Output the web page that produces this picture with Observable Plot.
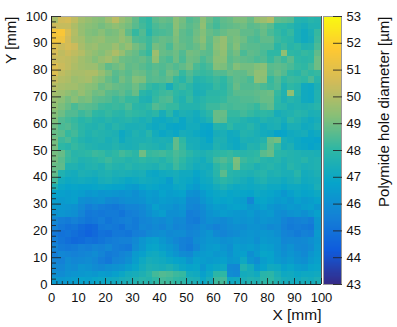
<!DOCTYPE html>
<html><head><meta charset="utf-8">
<script src="https://cdn.jsdelivr.net/npm/d3@7"></script>
<script src="https://cdn.jsdelivr.net/npm/@observablehq/plot@0.6"></script>
<style>body{margin:0;background:#fff}#c{position:relative;width:397px;height:327px}svg{position:absolute;left:0;top:0;background:transparent!important}
g[aria-label="rect"]{filter:blur(.45px)}</style>
</head><body><div id="c"></div><script>
const cellSize = 2.5;
const xTicks = [0,10,20,30,40,50,60,70,80,90,100];
const yTicks = xTicks;
const minorTicks = [2,4,6,8,12,14,16,18,22,24,26,28,32,34,36,38,42,44,46,48,52,54,56,58,62,64,66,68,72,74,76,78,82,84,86,88,92,94,96,98];
const zTicks = [43,44,45,46,47,48,49,50,51,52,53];
const birdStops = [43,44.25,45.5,46.75,48,49.25,50.5,51.75,53];
const birdColors = ["#352a87","#0f5cdd","#1481d6","#06a4ca","#2eb7a4","#87bf77","#d1bb59","#fec832","#f9fb0e"];
// rows from top (y = 97.5-100) to bottom (y = 0-2.5), columns x = 0..97.5
const rows = [
[49.8,50.5,50.6,50.2,49.7,49.5,49.3,49.2,49.6,50.1,49.5,49.2,48.7,48.2,48.0,48.6,48.8,48.7,49.3,49.0,48.5,48.7,49.3,48.8,48.4,48.7,48.8,49.1,49.1,48.8,49.4,49.6,49.9,48.7,48.6,48.5,47.7,47.6,47.8,47.7],
[50.4,50.3,50.3,49.9,49.5,49.3,49.2,49.0,49.2,49.4,49.2,49.0,48.6,48.3,48.0,48.4,48.6,48.5,49.3,48.9,48.6,48.8,49.4,48.6,48.3,48.6,48.7,48.8,48.9,48.6,48.7,48.9,48.6,48.0,48.0,47.8,47.5,47.3,47.6,47.6],
[51.5,51.6,50.7,50.0,49.5,49.2,49.1,49.3,49.0,49.1,49.4,48.7,48.1,48.5,47.8,48.3,48.4,48.5,49.2,48.7,48.5,48.9,49.2,48.8,48.6,48.8,49.0,49.0,48.7,48.7,48.5,48.8,48.4,48.1,47.8,48.1,47.4,47.1,47.4,48.1],
[51.4,51.3,50.5,49.9,49.7,49.3,49.4,49.5,49.2,49.2,49.5,49.2,48.5,48.4,48.2,48.6,48.8,48.7,49.1,48.7,48.6,49.0,49.3,48.7,49.2,49.5,48.9,49.1,48.9,48.5,48.4,48.7,48.7,48.2,48.0,47.9,47.4,47.1,47.3,48.2],
[50.8,50.4,50.6,50.4,49.8,49.5,49.6,49.3,49.3,49.6,49.2,49.5,49.0,48.7,48.2,49.0,48.8,48.4,49.0,48.8,48.6,48.8,49.1,48.6,49.3,49.5,48.8,49.2,48.7,48.6,48.6,48.5,48.5,47.9,48.2,47.8,48.0,47.6,47.7,48.4],
[50.6,50.2,50.4,50.2,50.0,49.6,49.4,49.2,49.5,49.9,49.5,49.0,48.8,48.4,48.1,49.6,48.8,48.7,48.9,48.5,49.0,48.9,48.7,48.6,49.2,49.4,48.7,49.0,48.4,48.7,48.6,48.4,48.0,48.0,49.4,48.0,47.9,48.1,48.0,48.7],
[50.4,50.3,50.2,50.0,49.7,49.5,49.2,49.5,49.7,49.3,48.9,48.8,48.7,48.8,48.5,49.4,48.6,48.4,48.9,48.4,48.9,48.8,48.4,48.7,49.3,49.3,48.6,48.8,48.7,48.6,48.4,48.5,48.1,48.5,48.2,48.6,48.0,47.9,48.0,48.9],
[50.8,50.4,50.2,49.9,49.7,49.6,49.6,49.2,48.7,48.9,49.1,48.7,48.8,48.6,48.4,48.6,48.5,48.7,48.5,48.7,49.0,48.4,48.2,48.4,49.2,49.1,48.7,49.2,49.0,49.0,49.2,49.3,48.6,48.7,48.6,48.4,48.1,48.0,48.3,48.9],
[50.8,50.2,50.0,49.8,49.8,49.9,49.9,49.5,49.1,48.6,48.8,48.6,48.9,48.8,48.5,48.7,48.4,48.9,48.7,48.1,48.5,48.2,48.1,48.2,48.5,48.5,48.8,48.7,48.7,49.0,49.4,49.4,48.5,48.8,48.5,48.0,47.8,48.2,48.0,48.1],
[50.3,50.0,49.9,49.6,49.7,49.8,49.4,49.2,48.8,48.5,49.0,48.7,49.2,49.1,48.5,48.6,48.5,48.7,48.1,47.8,48.3,47.7,47.8,48.0,48.2,48.0,48.4,48.7,48.6,48.4,49.4,49.3,48.1,48.5,48.0,48.2,48.1,48.0,48.4,47.8],
[50.0,49.8,49.7,49.7,49.5,49.3,49.2,48.8,49.0,48.8,48.7,48.6,48.9,48.5,48.1,47.9,48.1,47.3,48.0,48.2,47.9,47.5,47.6,47.7,48.1,47.9,48.3,48.8,48.5,48.5,48.6,48.4,48.2,48.4,47.6,48.0,47.8,47.1,47.0,47.5],
[49.7,49.6,49.4,49.2,49.5,49.2,48.9,49.0,48.6,48.5,48.7,48.4,48.8,47.9,47.7,48.0,48.2,48.3,48.0,47.8,48.0,47.4,47.5,47.9,47.9,48.0,48.3,48.6,48.6,48.6,48.7,48.8,48.9,48.1,47.6,49.4,47.8,47.1,47.0,47.6],
[49.5,49.3,49.0,49.3,49.0,49.1,48.7,48.6,48.5,48.2,48.4,48.1,48.1,47.6,47.5,48.1,48.4,48.5,47.9,47.6,48.1,47.6,47.8,48.0,48.0,48.1,48.4,48.4,48.5,48.5,48.6,48.8,48.8,48.0,47.5,47.8,47.6,47.1,47.0,47.6],
[49.4,49.1,48.8,48.4,48.7,48.6,48.5,48.2,48.1,48.2,48.1,48.4,47.9,47.8,48.0,48.5,48.3,48.1,48.1,47.7,47.7,47.7,47.9,48.2,48.2,48.4,48.3,48.4,48.4,48.3,48.1,48.5,48.7,47.9,47.8,47.5,47.6,47.5,47.6,47.8],
[49.2,48.9,48.5,48.5,48.2,48.4,48.0,47.9,48.1,47.9,47.8,48.1,48.0,47.9,47.7,47.9,47.3,47.9,47.2,47.5,47.4,47.2,47.6,47.9,48.8,48.8,48.1,48.1,48.3,48.1,47.9,48.0,47.9,47.3,47.5,47.6,47.8,47.7,47.4,47.5],
[49.1,48.5,48.3,48.1,47.8,48.0,47.7,47.6,47.8,47.6,47.7,47.8,47.6,47.4,47.6,47.1,47.0,47.2,47.4,46.9,47.3,47.1,47.3,47.6,48.8,48.7,47.9,47.9,47.7,47.5,47.4,47.7,47.5,47.6,47.3,47.9,47.6,47.3,47.1,47.3],
[48.9,48.4,48.5,48.2,47.9,47.7,47.6,47.8,47.5,47.8,47.6,47.4,47.4,47.5,47.2,47.0,47.2,46.9,46.8,46.9,47.2,47.2,46.9,46.8,47.7,47.6,48.0,47.6,47.6,47.8,47.5,47.2,47.4,47.5,47.0,47.4,47.4,47.1,47.2,47.5],
[48.8,48.6,48.1,48.3,47.9,47.6,47.8,47.7,47.6,47.5,47.0,47.3,47.6,47.4,47.8,47.2,46.9,47.1,46.9,47.3,47.2,47.0,46.8,46.7,47.3,47.4,47.1,47.2,47.7,47.6,47.4,47.2,47.1,46.7,46.8,47.1,47.2,47.3,46.9,47.1],
[49.0,48.2,48.4,48.0,47.7,47.5,47.6,47.7,47.4,47.6,47.1,47.4,47.5,47.5,47.6,47.4,47.5,47.4,48.7,48.0,47.3,47.3,47.1,46.8,47.5,47.5,47.1,47.0,47.5,47.4,47.5,47.7,48.8,49.0,47.4,47.2,47.0,46.8,46.8,46.7],
[49.0,48.0,47.8,48.1,47.9,47.7,47.6,47.5,47.5,47.7,47.5,47.4,47.5,47.8,47.7,47.6,47.4,47.7,48.7,48.1,47.4,47.3,47.1,47.1,47.6,47.4,47.2,47.0,47.3,47.7,47.6,48.0,48.7,48.1,47.3,47.5,47.0,46.9,46.7,46.9],
[49.0,48.8,48.2,47.8,47.9,48.0,48.2,48.1,47.8,48.0,48.3,48.1,47.9,48.9,48.1,48.2,48.3,48.1,48.4,48.2,47.9,47.6,47.5,47.7,47.9,48.0,48.1,47.9,47.8,47.9,48.0,48.6,48.8,47.9,47.8,47.7,47.6,47.5,47.5,47.4],
[49.0,48.6,48.1,47.9,47.6,47.7,47.8,48.0,48.2,47.9,47.9,47.7,47.8,48.0,47.8,47.9,47.7,48.0,48.3,48.0,47.6,47.4,47.2,47.6,48.3,48.5,48.2,49.1,48.2,48.0,48.1,47.8,47.7,47.8,47.5,47.7,47.6,47.8,47.5,47.6],
[48.8,48.7,47.6,47.6,47.4,47.6,47.7,47.5,47.9,47.7,47.6,47.8,47.6,47.7,47.6,47.5,47.8,47.6,48.2,47.8,47.5,47.2,47.3,47.2,47.9,48.2,48.0,49.0,47.9,47.8,47.5,47.7,47.8,47.6,47.4,47.8,47.6,47.4,47.5,47.6],
[48.7,47.6,47.3,47.2,47.5,47.4,47.3,47.5,47.6,47.4,47.5,47.4,47.3,47.4,47.0,46.9,47.1,47.2,47.3,47.1,47.1,46.8,47.1,47.3,47.8,48.6,47.8,47.7,47.6,47.5,47.7,47.8,47.5,47.6,47.4,47.4,47.8,47.2,47.3,47.5],
[48.3,47.2,47.0,47.1,47.2,47.1,47.0,47.3,47.4,47.2,47.1,46.9,47.0,47.2,47.1,47.0,46.9,46.5,47.2,47.0,46.9,46.6,47.0,47.1,47.6,47.9,47.7,47.5,47.3,47.1,47.4,47.6,47.3,47.3,47.1,47.3,47.5,47.1,47.2,47.3],
[47.5,46.9,46.7,46.8,46.7,46.7,46.8,46.9,46.8,46.7,46.7,46.5,46.4,46.7,46.9,46.8,46.6,46.6,46.9,47.0,46.6,46.4,46.8,46.9,47.2,47.5,47.2,47.0,47.1,47.0,47.1,47.2,47.0,47.0,46.8,47.0,47.0,46.9,47.0,47.4],
[46.7,46.6,46.5,46.6,46.5,46.3,46.4,46.2,46.3,46.2,46.1,46.2,46.0,46.3,46.5,46.4,46.7,46.5,46.6,46.7,46.1,46.0,46.4,46.7,46.9,47.0,46.8,46.9,46.8,46.7,47.0,46.9,46.8,46.6,46.3,46.6,46.9,46.7,46.8,47.0],
[46.5,46.4,46.5,46.6,46.0,45.9,46.0,46.1,45.8,45.7,45.9,46.0,46.0,46.1,46.4,46.3,46.5,46.4,46.3,46.4,45.8,45.8,46.2,46.5,46.8,46.7,46.8,46.6,46.5,45.7,46.7,46.8,46.6,46.4,46.5,46.3,46.6,46.4,46.5,46.7],
[46.4,46.3,46.2,46.1,45.8,45.4,45.6,45.4,45.3,45.2,45.4,45.6,45.6,45.8,46.1,46.6,46.3,46.2,46.0,46.2,45.7,45.6,45.9,46.3,46.5,46.4,46.6,46.7,46.6,46.3,46.4,46.6,46.3,46.1,46.2,46.4,46.3,46.5,46.6,46.3],
[46.1,46.2,46.1,46.0,45.6,45.2,45.3,45.2,45.3,45.3,45.1,45.4,45.5,45.7,46.0,46.3,46.5,46.0,46.0,46.1,45.4,45.5,45.8,46.1,46.3,46.5,46.4,46.3,46.2,46.4,46.1,46.3,46.4,46.0,45.9,46.1,46.2,46.0,46.3,46.6],
[45.7,45.4,45.3,45.5,45.3,45.1,45.2,45.4,45.1,45.3,45.4,45.5,45.3,45.6,45.7,45.9,45.8,46.0,45.7,45.8,45.4,45.3,45.7,46.0,45.9,45.8,46.0,46.2,46.1,46.2,46.0,46.2,46.1,46.0,45.6,45.4,45.5,45.6,45.4,46.3],
[45.5,45.2,45.0,45.1,44.8,44.6,44.7,45.2,45.3,45.2,45.0,45.4,45.3,45.7,45.6,45.8,45.6,45.9,45.6,45.7,45.5,45.6,45.9,45.7,45.5,45.7,45.9,46.0,45.9,46.1,46.1,46.0,45.8,45.9,45.5,45.3,45.4,45.3,45.2,46.2],
[45.2,45.0,45.1,44.9,44.7,44.5,44.7,45.0,44.9,45.2,45.2,45.1,45.4,45.5,45.8,45.9,46.0,45.8,45.9,45.9,45.6,45.7,46.0,46.2,45.8,45.6,45.8,45.9,46.1,46.2,46.1,46.3,46.2,46.0,45.6,45.5,45.3,45.5,45.4,46.4],
[45.4,45.1,44.9,44.7,44.8,45.0,44.9,45.1,45.3,45.4,45.5,45.5,45.8,46.2,46.5,46.6,46.3,46.0,45.7,45.5,45.4,45.9,46.1,46.3,46.2,46.0,46.1,46.3,46.2,46.3,46.0,46.4,46.3,46.2,45.7,45.8,45.7,45.8,46.0,46.3],
[45.6,45.3,45.2,45.3,45.5,45.4,45.6,45.5,45.7,45.4,45.3,45.2,45.9,46.3,46.7,46.8,46.5,46.3,46.0,45.5,45.3,45.7,46.2,46.4,46.5,46.2,46.0,46.5,46.4,46.5,46.3,46.6,46.5,46.2,45.9,46.1,45.8,45.7,45.9,46.4],
[45.4,45.7,45.6,45.5,45.6,45.7,45.9,45.6,45.3,45.4,45.6,45.8,46.4,46.6,47.0,47.1,46.9,46.5,46.2,45.9,45.8,46.3,46.4,46.5,46.3,46.4,46.1,46.5,46.6,46.0,46.4,46.8,46.7,46.3,46.0,46.2,46.0,45.8,46.2,46.5],
[45.6,45.5,45.9,45.7,45.8,45.9,45.7,45.4,45.2,45.6,45.7,46.0,46.5,47.0,47.3,47.2,47.1,46.9,46.7,46.6,46.2,46.6,46.5,46.4,46.5,46.6,46.3,46.4,47.0,46.2,45.9,46.5,46.7,46.4,46.2,46.4,46.1,46.0,46.4,46.6],
[45.8,45.7,46.0,45.9,46.2,46.1,45.9,45.8,46.0,46.1,46.2,46.5,46.8,47.2,47.5,47.4,47.3,47.5,47.2,46.9,46.7,46.8,46.3,46.7,46.9,47.0,45.8,45.7,47.6,47.2,46.4,46.7,47.1,47.0,46.6,46.8,46.5,46.4,46.7,46.8],
[46.0,45.9,46.1,46.2,46.3,46.4,46.3,46.5,46.4,46.6,46.9,47.2,47.3,47.5,47.8,48.3,48.5,48.4,48.2,48.1,47.2,47.1,46.6,47.0,47.9,48.0,45.9,45.8,47.2,47.3,47.1,47.8,47.9,47.4,47.0,47.1,46.9,47.0,47.0,47.1],
[46.4,46.3,46.4,46.5,46.7,46.6,46.8,46.9,47.0,47.1,47.3,47.4,47.6,47.8,47.7,48.0,48.3,48.2,48.0,47.9,47.5,47.4,46.9,47.3,48.2,48.3,47.0,47.1,47.4,47.6,47.5,47.9,48.0,47.6,47.3,47.2,47.1,47.3,47.2,47.4]
];
const levels = d3.range(43, 53, 10 / 255);
const grid = rows.flatMap((row, r) => row.map((v, c) => ({x: c * cellSize, y: 100 - (r + 1) * cellSize, v})));
const colorOpt = {type: "linear", domain: birdStops, range: birdColors, clamp: true};
const FONT = "'Liberation Sans',Arial,sans-serif";
const common = {width: 397, height: 327, marginTop: 16, marginBottom: 43, style: {fontFamily: FONT, fontSize: 13, background: "transparent", color: "#111", overflow: "visible"}};

const main = Plot.plot({...common, marginLeft: 51, marginRight: 76,
  x: {domain: [0, 100]}, y: {domain: [0, 100]}, color: colorOpt,
  marks: [
    Plot.rect(grid, {x1: "x", x2: d => d.x + cellSize, y1: "y", y2: d => d.y + cellSize, fill: d => d.v, shapeRendering: "crispEdges"}),
    Plot.ruleY([100], {stroke: "#aaa"}),
    Plot.ruleX([100], {stroke: "#555"}),
    Plot.ruleX([0], {stroke: "#222"}),
    Plot.ruleY([0], {stroke: "#222"}),
    Plot.axisX(xTicks, {anchor: "bottom", tickSize: -6, tickPadding: 14, stroke: "#222", strokeOpacity: 0.85, label: null}),
    Plot.axisX(minorTicks, {anchor: "bottom", tickSize: -3, text: null, stroke: "#222", strokeOpacity: 0.85, label: null}),
    Plot.axisY(yTicks, {anchor: "left", tickSize: -10, tickPadding: 14, stroke: "#222", strokeOpacity: 0.85, label: null}),
    Plot.axisY(minorTicks, {anchor: "left", tickSize: -5, text: null, stroke: "#222", strokeOpacity: 0.85, label: null}),
    Plot.text(["X [mm]"], {frameAnchor: "bottom-right", dy: 31, textAnchor: "end", lineAnchor: "middle", fontSize: 15.5, fill: "#111"}),
    Plot.text(["Y [mm]"], {frameAnchor: "top-left", dx: -40, rotate: -90, textAnchor: "end", lineAnchor: "middle", fontSize: 15, fill: "#111"})
  ]});

const bar = Plot.plot({...common, marginLeft: 323, marginRight: 397 - 341,
  x: {domain: [0, 1], axis: null}, y: {domain: [43, 53]}, color: colorOpt,
  marks: [
    Plot.rect(levels, {x1: 0, x2: 1, y1: d => d, y2: d => d + 10 / 255, fill: d => d, shapeRendering: "crispEdges"}),
    Plot.frame({stroke: "#999"}),
    Plot.axisY(zTicks, {anchor: "right", tickSize: -9, tickPadding: 14, stroke: "#222", strokeOpacity: 0.85, label: null}),
    Plot.text(["Polymide hole diameter [µm]"], {frameAnchor: "top-right", dx: 43, rotate: -90, textAnchor: "end", lineAnchor: "middle", fontSize: 15, fill: "#111"})
  ]});
document.getElementById("c").append(main, bar);
</script></body></html>
